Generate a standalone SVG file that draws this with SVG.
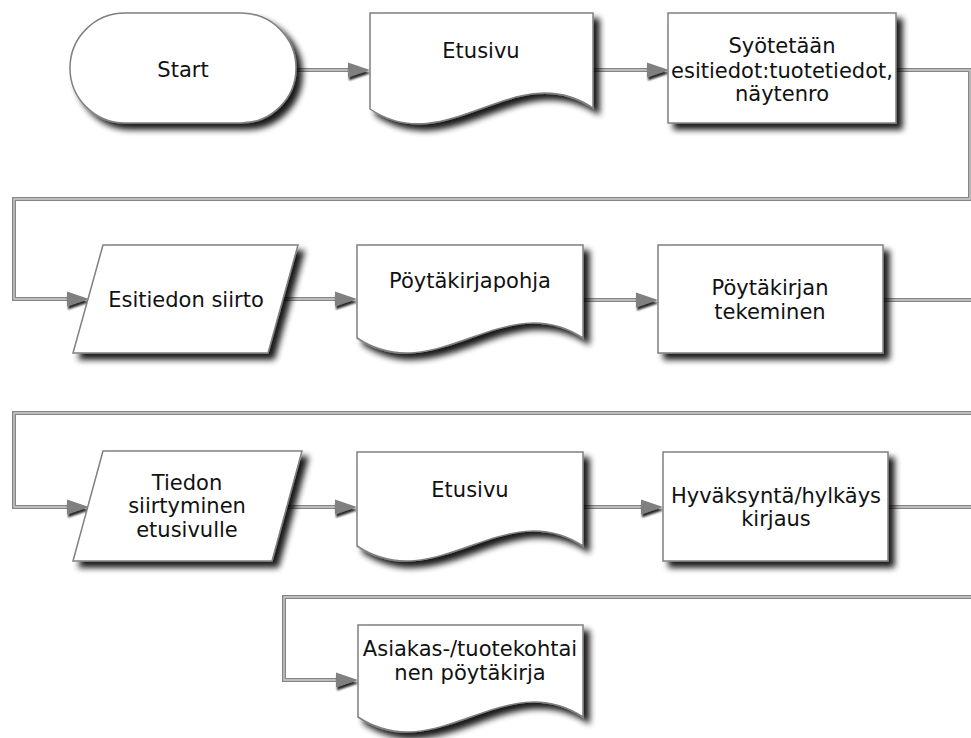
<svg xmlns="http://www.w3.org/2000/svg" xmlns:xlink="http://www.w3.org/1999/xlink" width="971" height="738" viewBox="0 0 971 738">
  <defs>
    <filter id="shadow" x="-10%" y="-10%" width="130%" height="140%">
      <feGaussianBlur in="SourceAlpha" stdDeviation="3"/>
      <feOffset dx="6" dy="6" result="blur"/>
      <feComponentTransfer>
        <feFuncA type="linear" slope="0.9"/>
      </feComponentTransfer>
      <feMerge>
        <feMergeNode/>
        <feMergeNode in="SourceGraphic"/>
      </feMerge>
    </filter>
    <filter id="arrowShadow" x="-30%" y="-30%" width="180%" height="200%">
      <feGaussianBlur in="SourceAlpha" stdDeviation="1"/>
      <feOffset dx="1" dy="3"/>
      <feComponentTransfer>
        <feFuncA type="linear" slope="0.85"/>
      </feComponentTransfer>
      <feMerge>
        <feMergeNode/>
        <feMergeNode in="SourceGraphic"/>
      </feMerge>
    </filter>
    <!-- arrowhead pointing right, tip at (0,0) -->
    <path id="arrowhead" d="M-22,-7.5 L0,0 L-22,7.5 Z" fill="#808080" filter="url(#arrowShadow)"/>
  </defs>
  <style>
    .shape { fill: #ffffff; stroke: #808080; stroke-width: 1.5; filter: url(#shadow); }
    .label { font-family: "DejaVu Sans", Verdana, sans-serif; font-size: 21px; fill: #111111; text-anchor: middle; }
    .wire-outer { fill: none; stroke: #858585; stroke-width: 4; }
    .wire-inner { fill: none; stroke: #cfcfcf; stroke-width: 1.3; }
  </style>

  <rect width="971" height="738" fill="#ffffff"/>

  <!-- connectors -->
  <g id="connectors">
    <g class="wire-outer">
      <path d="M296,70 H349"/>
      <path d="M593,70 H648"/>
      <path d="M896,70 H970 V199 H14 V299 H68"/>
      <path d="M283,299 H336"/>
      <path d="M583,300 H637"/>
      <path d="M883,300 H980 V413 H14 V507 H68"/>
      <path d="M287,507 H336"/>
      <path d="M583,507 H642"/>
      <path d="M888,507 H980 V597 H284 V680 H337"/>
    </g>
    <g class="wire-inner">
      <path d="M296,70 H349"/>
      <path d="M593,70 H648"/>
      <path d="M896,70 H970 V199 H14 V299 H68"/>
      <path d="M283,299 H336"/>
      <path d="M583,300 H637"/>
      <path d="M883,300 H980 V413 H14 V507 H68"/>
      <path d="M287,507 H336"/>
      <path d="M583,507 H642"/>
      <path d="M888,507 H980 V597 H284 V680 H337"/>
    </g>
    <use xlink:href="#arrowhead" transform="translate(370,70)"/>
    <use xlink:href="#arrowhead" transform="translate(669,70)"/>
    <use xlink:href="#arrowhead" transform="translate(89,299)"/>
    <use xlink:href="#arrowhead" transform="translate(357,299)"/>
    <use xlink:href="#arrowhead" transform="translate(658,300)"/>
    <use xlink:href="#arrowhead" transform="translate(89,507)"/>
    <use xlink:href="#arrowhead" transform="translate(357,507)"/>
    <use xlink:href="#arrowhead" transform="translate(663,507)"/>
    <use xlink:href="#arrowhead" transform="translate(358,680)"/>
  </g>

  <!-- row 1 -->
  <g id="start">
    <rect class="shape" x="70" y="13" width="226" height="110" rx="55" ry="55"/>
    <text class="label" x="183" y="77">Start</text>
  </g>
  <g id="etusivu-1">
    <path class="shape" d="M370,13 H593 V108 C515,56 448,161 370,109 Z"/>
    <text class="label" x="481" y="58">Etusivu</text>
  </g>
  <g id="syotetaan">
    <rect class="shape" x="668" y="13" width="228" height="110"/>
    <text class="label" x="782" y="53">Syötetään</text>
    <text class="label" x="782" y="78">esitiedot:tuotetiedot,</text>
    <text class="label" x="782" y="101">näytenro</text>
  </g>

  <!-- row 2 -->
  <g id="esitiedon-siirto">
    <path class="shape" d="M103,245 H298 L268,353 H73 Z"/>
    <text class="label" x="186" y="307">Esitiedon siirto</text>
  </g>
  <g id="poytakirjapohja">
    <path class="shape" d="M357,245 H583 V338 C504,286 436,390 357,338 Z"/>
    <text class="label" x="470" y="288">Pöytäkirjapohja</text>
  </g>
  <g id="poytakirjan-tekeminen">
    <rect class="shape" x="658" y="245" width="225" height="108"/>
    <text class="label" x="770" y="295">Pöytäkirjan</text>
    <text class="label" x="770" y="319">tekeminen</text>
  </g>

  <!-- row 3 -->
  <g id="tiedon-siirtyminen">
    <path class="shape" d="M103,451 H302 L272,561 H73 Z"/>
    <text class="label" x="187" y="490">Tiedon</text>
    <text class="label" x="187" y="513">siirtyminen</text>
    <text class="label" x="187" y="537">etusivulle</text>
  </g>
  <g id="etusivu-2">
    <path class="shape" d="M357,452 H583 V546 C504,494 436,598 357,546 Z"/>
    <text class="label" x="470" y="497">Etusivu</text>
  </g>
  <g id="hyvaksynta">
    <rect class="shape" x="663" y="452" width="225" height="109"/>
    <text class="label" x="776" y="503">Hyväksyntä/hylkäys</text>
    <text class="label" x="776" y="526">kirjaus</text>
  </g>

  <!-- row 4 -->
  <g id="poytakirja">
    <path class="shape" d="M358,625 H583 V717 C504,665 437,769 358,717 Z"/>
    <text class="label" x="470" y="656">Asiakas-/tuotekohtai</text>
    <text class="label" x="470" y="680">nen pöytäkirja</text>
  </g>
</svg>
